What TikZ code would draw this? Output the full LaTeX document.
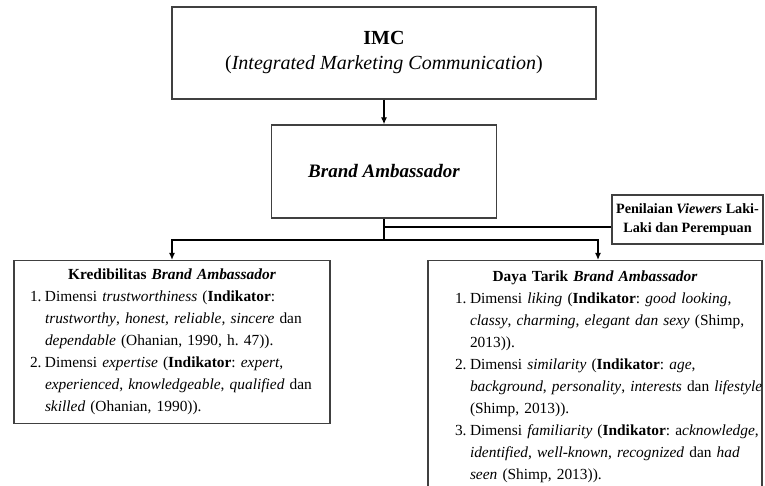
\documentclass[tikz,border=0pt]{standalone}
\usepackage{fontspec}
\setmainfont{Liberation Serif}
\usetikzlibrary{arrows.meta}

\newcommand{\dimitem}[2]{\par\hangindent=15pt\hangafter=1\noindent\makebox[15pt][l]{#1}#2\par}

\begin{document}
\begin{tikzpicture}[
  x=1pt, y=-1pt,
  box/.style={draw=black!75, line width=1.3pt, rectangle, inner sep=0pt},
  listbox/.style={box, text width=#1, font=\fontsize{15.4}{22}\selectfont\frenchspacing},
  arr/.style={-{Latex[length=7pt,width=6pt]}, line width=1.3pt},
  line/.style={line width=1.3pt}
]
  \useasboundingbox (0,0) rectangle (765,486);

  % top boxes
  \node[box, minimum width=424pt, minimum height=92pt, align=center, font=\fontsize{20}{25}\selectfont] (imc) at (384,53) {\textbf{IMC}\\(\textit{Integrated Marketing Communication})};
  \node[box, minimum width=225pt, minimum height=93pt, font=\fontsize{19}{22}\selectfont\bfseries\itshape] (brand) at (384,171.5) {Brand Ambassador};
  \node[box, minimum width=151pt, minimum height=49pt, align=center, font=\fontsize{14.2}{19}\selectfont\bfseries] (viewer) at (687.5,219.5) {Penilaian \textit{Viewers} Laki-\\Laki dan Perempuan};

  % dimension boxes
  \node[listbox=316pt, minimum height=163pt, anchor=north] (kred) at (172,260) {%
    {\centering\textbf{Kredibilitas \textit{Brand Ambassador}}\par}
    \leftskip=16pt\rightskip=0pt plus 1fil minus 40pt
    \dimitem{1.}{Dimensi \textit{trustworthiness} (\textbf{Indikator}:\newline
      \textit{trustworthy}, \textit{honest, reliable, sincere} dan\newline
      \textit{dependable} (Ohanian, 1990, h. 47)).}
    \dimitem{2.}{Dimensi \textit{expertise} (\textbf{Indikator}: \textit{expert},\newline
      \textit{experienced}, \textit{knowledgeable}, \textit{qualified} dan\newline
      \textit{skilled} (Ohanian, 1990)).}};
  \node[listbox=334pt, minimum height=232pt, anchor=north] (daya) at (595,260) {%
    {\centering\textbf{Daya Tarik \textit{Brand Ambassador}}\par}
    \leftskip=27pt\rightskip=0pt plus 1fil minus 40pt
    \dimitem{1.}{Dimensi \textit{liking} (\textbf{Indikator}: \textit{good looking},\newline
      \textit{classy}, \textit{charming}, \textit{elegant dan sexy} (Shimp,\newline
      2013)).}
    \dimitem{2.}{Dimensi \textit{similarity} (\textbf{Indikator}: \textit{age},\newline
      \textit{background}, \textit{personality}, \textit{interests} dan \textit{lifestyle}\newline
      (Shimp, 2013)).}
    \dimitem{3.}{Dimensi \textit{familiarity} (\textbf{Indikator}: a\textit{cknowledge},\newline
      \textit{identified}, \textit{well-known}, \textit{recognized} dan \textit{had}\newline
      \textit{seen} (Shimp, 2013)).}};

  % junctions
  \coordinate (split) at (384,240);
  \coordinate (tap) at (384,227);

  % connectors
  \draw[arr] (imc) -- (brand);
  \draw[line] (brand.south) -- (split);
  \draw[line] (tap) -- (tap -| viewer.west);
  \draw[arr] (split) -| (kred.north);
  \draw[arr] (split) -| ([xshift=3pt]daya.north);

\end{tikzpicture}
\end{document}
